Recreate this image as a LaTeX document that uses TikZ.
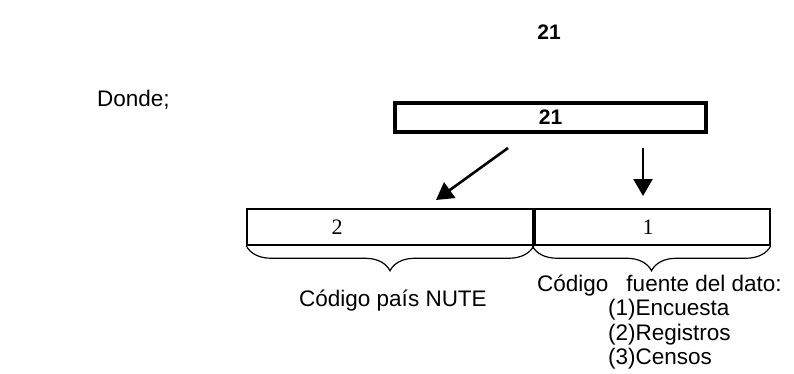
\documentclass[tikz,border=0pt]{standalone}
\usepackage{fontspec}
\setmainfont{Liberation Serif}
\setsansfont{Liberation Sans}
\usetikzlibrary{decorations.pathreplacing,arrows.meta}
\begin{document}
\begin{tikzpicture}[x=1pt,y=-1pt,
  sans/.style={font=\sffamily\fontsize{22.5}{26}\selectfont, inner sep=0pt},
  sansbold/.style={font=\sffamily\bfseries\fontsize{21}{25}\selectfont, inner sep=0pt},
  serifnum/.style={font=\rmfamily\fontsize{22}{26}\selectfont, inner sep=0pt},
  thickbox/.style={draw, line width=4pt, inner sep=0pt, minimum width=311pt, minimum height=29pt},
  cellbox/.style={draw, line width=1.5pt, inner sep=0pt, minimum height=36pt},
  divider/.style={line width=3.5pt},
  bracestyle/.style={decorate, decoration={brace, mirror, amplitude=25pt}, line width=1.2pt},
  arrowline/.style={line width=2.6pt, -{Triangle[length=17pt,width=19pt]}}
]
\useasboundingbox (0,0) rectangle (794,373);

% title
\node[sansbold] (title) at (549,32) {21};
\node[sans, anchor=west] (donde) at (97,100) {Donde;};

% top box
\node[thickbox, sansbold] (top) at (550.5,117) {21};

% arrows
\coordinate (a1s) at (508,148);
\coordinate (a1e) at (436,200);
\coordinate (a2s) at (643,148);
\coordinate (a2e) at (643,196);
\draw[arrowline] (a1s) -- (a1e);
\draw[arrowline] (a2s) -- (a2e);

% bottom boxes
\node[cellbox, minimum width=286pt] (left) at (390,227) {};
\node[cellbox, minimum width=237pt] (right) at (651.5,227) {};
\draw[divider] (left.north east) -- (left.south east);
\node[serifnum] (two) at (337,227) {2};
\node[serifnum] (one) at (648,227) {1};

% braces
\draw[bracestyle] (left.south west) -- (left.south east);
\draw[bracestyle] (right.south west) -- (right.south east);

% labels
\node[sans] (nute) at (393,301) {Código país NUTE};
\node[sans, anchor=west] (fuente) at (537,286) {Código\hspace{18pt}fuente del dato:};
\node[sans, anchor=west] (l1) at (608,310) {(1)Encuesta};
\node[sans, anchor=west] (l2) at (608,335) {(2)Registros};
\node[sans, anchor=west] (l3) at (608,359) {(3)Censos};
\end{tikzpicture}
\end{document}
